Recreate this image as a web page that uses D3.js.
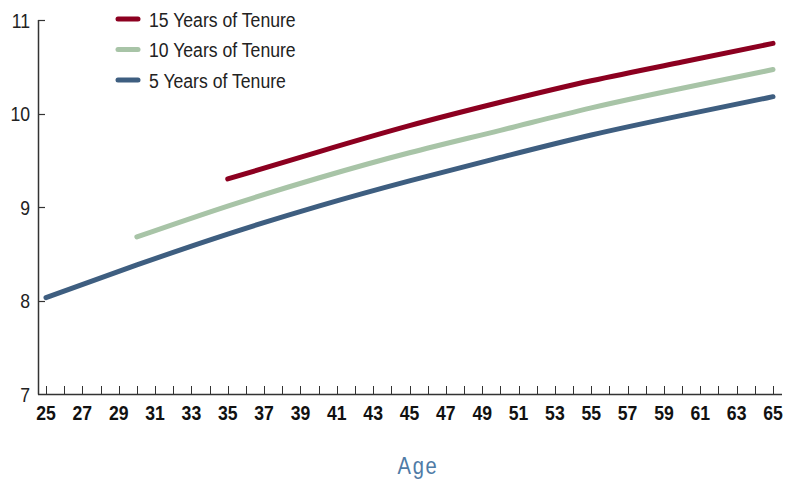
<!DOCTYPE html>
<html>
<head>
<meta charset="utf-8">
<script src="https://cdn.jsdelivr.net/npm/d3@7"></script>
<style>
  body { margin: 0; background: #fff; }
  svg text { font-family: "Liberation Sans", Arial, sans-serif; }
</style>
</head>
<body>
<svg id="chart" width="793" height="479"></svg>
<script>
// values, ages every 5 years
var ages5 = [25, 30, 35, 40, 45, 50, 55, 60, 65];
var tenure5 = [8.03, 8.38, 8.71, 9.01, 9.28, 9.53, 9.77, 9.98, 10.18];

var ages10 = [30, 35, 40, 45, 50, 55, 60, 65];
var tenure10 = [8.68, 9.01, 9.31, 9.58, 9.82, 10.06, 10.27, 10.47];

var ages15 = [35, 40, 45, 50, 55, 60, 65];
var tenure15 = [9.30, 9.59, 9.87, 10.12, 10.35, 10.55, 10.75];

var seriesNames = ['15 Years of Tenure', '10 Years of Tenure', '5 Years of Tenure'];
var yTicks = [7, 8, 9, 10, 11];
var xTicks = d3.range(25, 66, 2);

var colors = ['#8c0020', '#a8c4a7', '#3e5e80'];

var series = [
    { name: seriesNames[0], x: ages15, y: tenure15, color: colors[0] },
    { name: seriesNames[1], x: ages10, y: tenure10, color: colors[1] },
    { name: seriesNames[2], x: ages5, y: tenure5, color: colors[2] }
];

var narrow = 0.84; // fake a condensed face

var svg = d3.select('#chart');

var x = d3.scaleLinear().domain([25, 65]).range([46, 773]);
var y = d3.scaleLinear().domain([7, 11]).range([394, 20]);

// axis lines
svg.append('line')
    .attr('x1', 38.5).attr('x2', 38.5)
    .attr('y1', 20).attr('y2', 394.5)
    .attr('stroke', '#333').attr('stroke-width', 1.5);

svg.append('line')
    .attr('x1', 38).attr('x2', 782)
    .attr('y1', 394.5).attr('y2', 394.5)
    .attr('stroke', '#333').attr('stroke-width', 1.5);

// y ticks
svg.append('g').selectAll('line')
    .data(yTicks.filter(d => d > 7))
    .join('line')
    .attr('x1', 38).attr('x2', 45)
    .attr('y1', d => Math.round(y(d)) + 0.5)
    .attr('y2', d => Math.round(y(d)) + 0.5)
    .attr('stroke', '#333').attr('stroke-width', 1.2);

svg.append('g').selectAll('text')
    .data(yTicks)
    .join('text')
    .attr('transform', d => `translate(30 ${y(d) + 7.5}) scale(${narrow} 1)`)
    .attr('text-anchor', 'end')
    .attr('font-size', 21)
    .attr('fill', '#222')
    .text(d => d);

// x ticks every year
svg.append('g').selectAll('line')
    .data(d3.range(25, 66))
    .join('line')
    .attr('x1', d => Math.round(x(d)) + 0.5)
    .attr('x2', d => Math.round(x(d)) + 0.5)
    .attr('y1', 394).attr('y2', 386)
    .attr('stroke', '#333').attr('stroke-width', 1);

svg.append('g').selectAll('text')
    .data(xTicks)
    .join('text')
    .attr('transform', d => `translate(${x(d)} 420) scale(${narrow} 1)`)
    .attr('text-anchor', 'middle')
    .attr('font-size', 21)
    .attr('font-weight', 'bold')
    .attr('fill', '#111')
    .text(d => d);

svg.append('text')
    .attr('transform', `translate(418 474) scale(${narrow} 1)`)
    .attr('text-anchor', 'middle')
    .attr('font-size', 24)
    .attr('fill', '#4f7ba6')
    .attr('letter-spacing', 2)
    .text('Age');

// lines
var line = d3.line()
    .x(d => x(d[0]))
    .y(d => y(d[1]))
    .curve(d3.curveNatural);

svg.append('g').selectAll('path')
    .data(series.slice().reverse())
    .join('path')
    .attr('d', d => line(d.x.map((a, i) => [a, d.y[i]])))
    .attr('fill', 'none')
    .attr('stroke', d => d.color)
    .attr('stroke-width', 5)
    .attr('stroke-linecap', 'round');

// legend
var legend = svg.append('g').selectAll('g')
    .data(series)
    .join('g')
    .attr('transform', (d, i) => `translate(118 ${19 + i * 30.5})`);

legend.append('line')
    .attr('x1', 0).attr('x2', 20)
    .attr('stroke', d => d.color)
    .attr('stroke-width', 5)
    .attr('stroke-linecap', 'round');

legend.append('text')
    .attr('transform', `translate(31 7.5) scale(${narrow} 1)`)
    .attr('font-size', 21)
    .attr('fill', '#222')
    .text(d => d.name);
</script>
</body>
</html>
